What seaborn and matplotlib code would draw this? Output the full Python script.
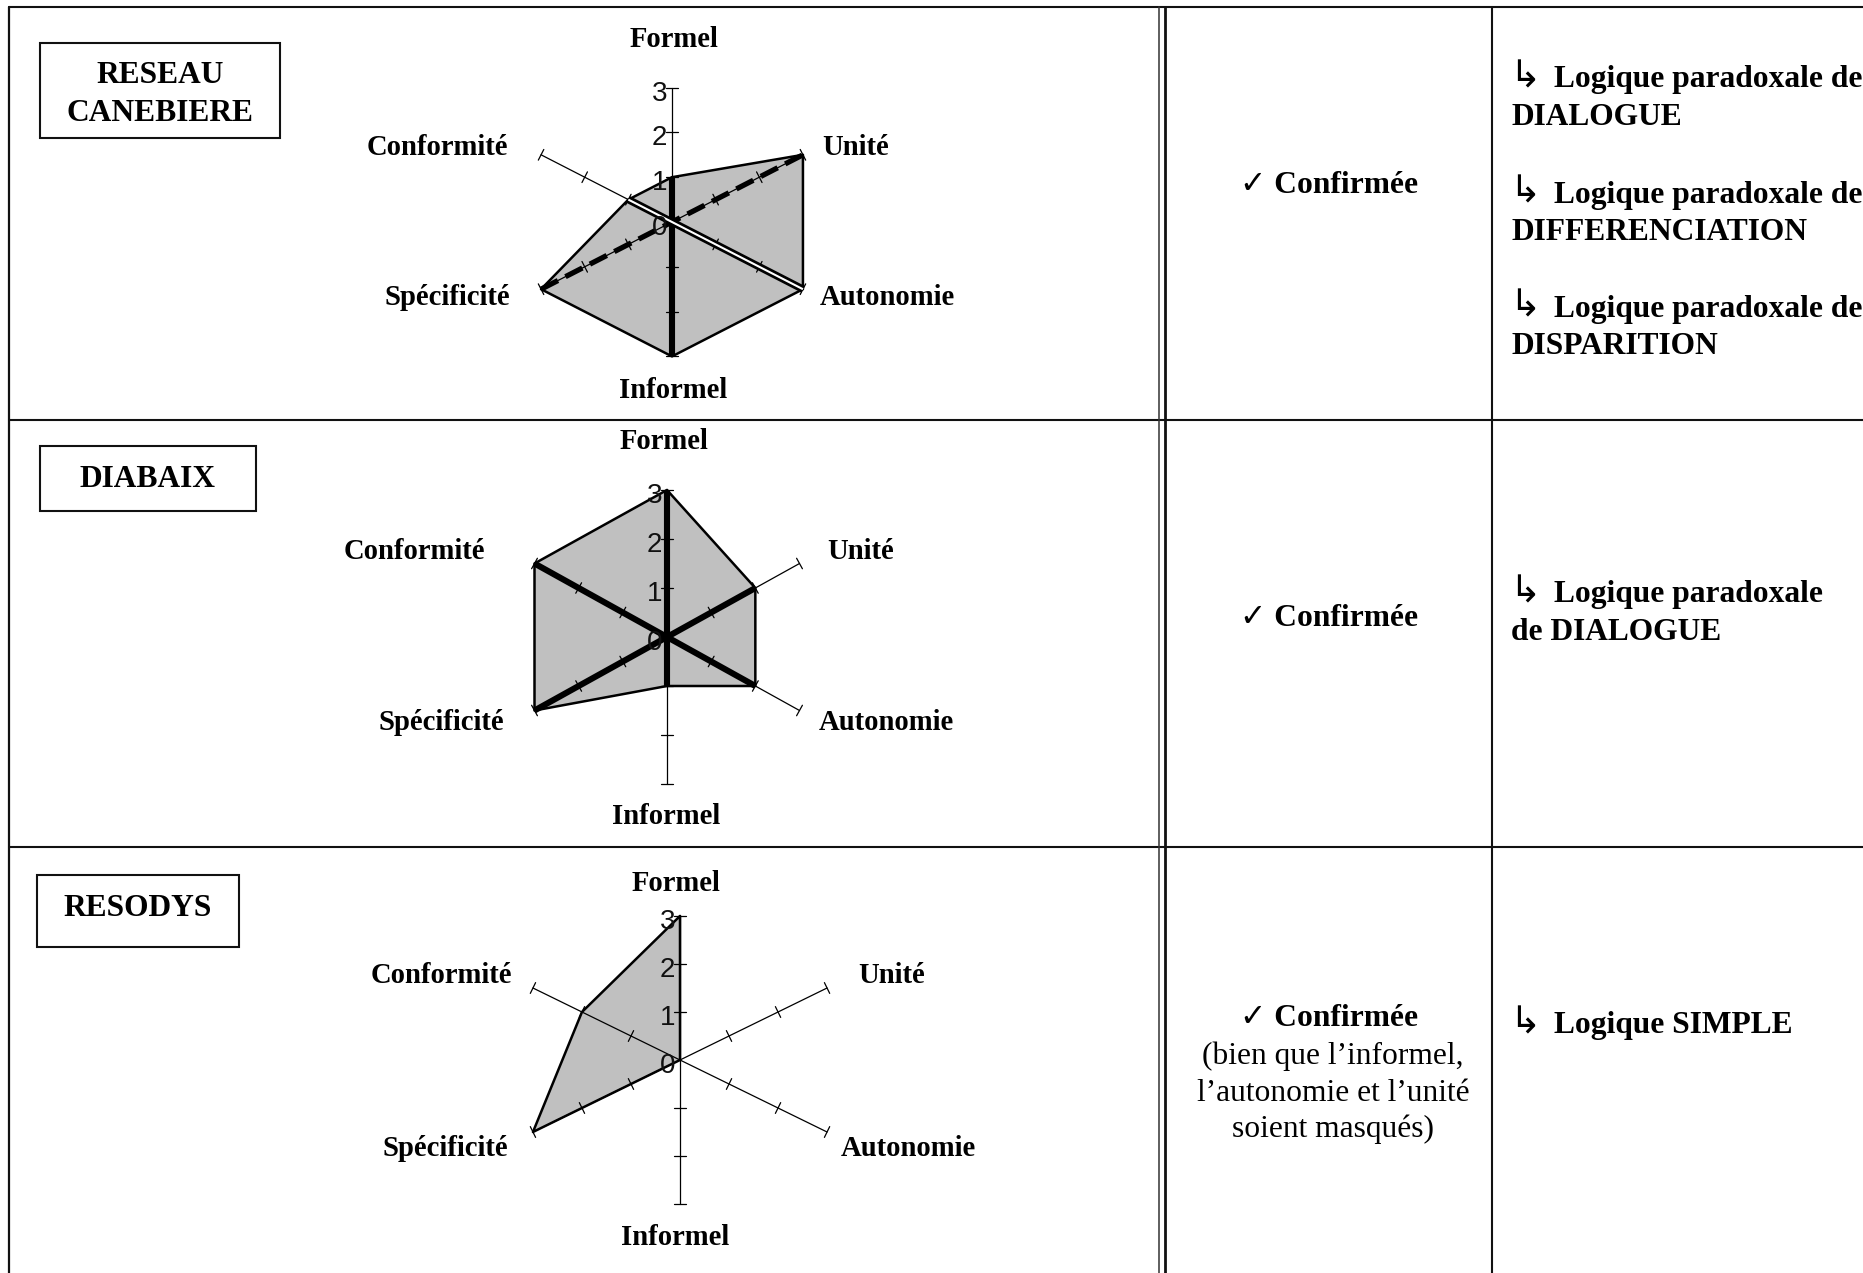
import numpy as np
import pandas as pd
import matplotlib
matplotlib.use("Agg")
import matplotlib.pyplot as plt
import matplotlib.transforms as mtransforms
from matplotlib import font_manager
from matplotlib.patches import Rectangle
import seaborn as sns

# ---------------- data ----------------
dimensions = ["Formel", "Unité", "Autonomie", "Informel", "Spécificité", "Conformité"]
scale_ticks = [0, 1, 2, 3]
scale_tick_labels = ["0", "1", "2", "3"]

case_names = [["RESEAU", "CANEBIERE"], ["DIABAIX"], ["RESODYS"]]
reseau_canebiere = [1, 3, 3, 3, 3, 1]
diabaix = [3, 2, 2, 1, 3, 3]
resodys = [3, 0, 0, 0, 3, 2]

canebiere_tensions = [("Formel", "Informel", "solid"),
                      ("Conformité", "Autonomie", "double"),
                      ("Spécificité", "Unité", "dashed")]
diabaix_tensions = [("Formel", "Informel", "solid"),
                    ("Conformité", "Autonomie", "solid"),
                    ("Spécificité", "Unité", "solid")]
resodys_tensions = []

verdicts = ["✓ Confirmée", "✓ Confirmée", "✓ Confirmée"]
resodys_note = ["(bien que l’informel,", "l’autonomie et l’unité", "soient masqués)"]

logics_canebiere = [["Logique paradoxale de", "DIALOGUE"],
                    ["Logique paradoxale de", "DIFFERENCIATION"],
                    ["Logique paradoxale de", "DISPARITION"]]
logics_diabaix = [["Logique paradoxale", "de DIALOGUE"]]
logics_resodys = [["Logique SIMPLE"]]

# ---------------- style / layout ----------------
W, H, DPI = 1863, 1273, 100
sns.set_theme(style="white")
plt.rcParams["font.family"] = ["Liberation Serif", "DejaVu Sans"]
SERIF = ["Liberation Serif", "DejaVu Sans"]
SANS = ["Liberation Sans", "DejaVu Sans"]
BODY = 22.7
LAB = 20.6
body_off = 0.331 * BODY * DPI / 72
lab_off = 0.331 * LAB * DPI / 72


def font_has(family, ch):
    try:
        from fontTools.ttLib import TTFont
        path = font_manager.findfont(font_manager.FontProperties(family=family),
                                     fallback_to_default=False)
        tt = TTFont(path, fontNumber=0, lazy=True)
        return ord(ch) in tt.getBestCmap()
    except Exception:
        return False


arrow_char, arrow_family, arrow_size = "↳", "DejaVu Sans", 27
for cand in ["⮱"]:
    for fam in ["DejaVu Sans", "Noto Sans"]:
        if font_has(fam, cand):
            arrow_char, arrow_family, arrow_size = cand, fam, 22
            break

fig = plt.figure(figsize=(W / DPI, H / DPI), dpi=DPI)
fig.patch.set_facecolor("white")
bg = fig.add_axes([0, 0, 1, 1])
bg.set_xlim(0, W)
bg.set_ylim(H, 0)
bg.axis("off")

ink = "#111111"
top, left_x = 7, 9
row_lines = [420, 847]
bg.plot([left_x, W], [top, top], color=ink, lw=1.5)
bg.plot([left_x, left_x], [top, H], color=ink, lw=1.6)
for y in row_lines:
    bg.plot([left_x, W], [y, y], color=ink, lw=1.5)
bg.plot([1158.5, 1158.5], [top, H], color="#333333", lw=1.1)
bg.plot([1164.5, 1164.5], [top, H], color=ink, lw=2.0)
bg.plot([1492, 1492], [top, H], color=ink, lw=1.5)

# case name boxes
boxes = [(40, 42.7, 240, 95.6), (40, 446, 216, 65), (36.7, 875, 202, 71.7)]
name_pos = [[(160, 72.5), (160, 110.5)], [(147.5, 477)], [(137.5, 905.5)]]
for (x0, y0, w, h), names, poss in zip(boxes, case_names, name_pos):
    bg.add_patch(Rectangle((x0, y0), w, h, fill=False, ec=ink, lw=1.5))
    for nm, (tx, ty) in zip(names, poss):
        bg.text(tx, ty + body_off, nm, ha="center", va="baseline",
                fontsize=BODY, fontweight="bold", family=SERIF, color="black")

# dimension labels (absolute positions, visual centres)
label_layout = [
    {"Formel": (673.6, 38, "center"), "Conformité": (508.5, 146, "right"),
     "Unité": (822, 146, "left"), "Spécificité": (509.7, 296, "right"),
     "Autonomie": (820, 296, "left"), "Informel": (673.6, 388.5, "center")},
    {"Formel": (664, 439.6, "center"), "Conformité": (484.7, 550, "right"),
     "Unité": (827, 550, "left"), "Spécificité": (503.7, 721, "right"),
     "Autonomie": (818.6, 721, "left"), "Informel": (666.5, 815, "center")},
    {"Formel": (676, 881.5, "center"), "Conformité": (512, 974, "right"),
     "Unité": (857.8, 974, "left"), "Spécificité": (508.5, 1146.5, "right"),
     "Autonomie": (841, 1146.5, "left"), "Informel": (674.8, 1235.6, "center")},
]
for lay in label_layout:
    for dim in dimensions:
        tx, ty, ha = lay[dim]
        bg.text(tx, ty + lab_off, dim, ha=ha, va="baseline", fontsize=LAB,
                fontweight="bold", family=SERIF, color="black")

# radar charts
charts = [
    dict(values=reseau_canebiere, tensions=canebiere_tensions, center=(672, 222), unit=(50.4, 44.8)),
    dict(values=diabaix, tensions=diabaix_tensions, center=(667, 637), unit=(51.0, 49.0)),
    dict(values=resodys, tensions=resodys_tensions, center=(680, 1060), unit=(56.6, 48.0)),
]
angles = np.deg2rad([90, 30, -30, -90, -150, 150])
ext = 4.0
vmax = max(scale_ticks)
for ch in charts:
    cx, cy = ch["center"]
    ux, uy = ch["unit"]
    ax = fig.add_axes([(cx - ext * ux) / W, 1 - (cy + ext * uy) / H,
                       2 * ext * ux / W, 2 * ext * uy / H])
    ax.patch.set_alpha(0)
    df = pd.DataFrame({"dimension": dimensions, "value": ch["values"], "angle": angles})
    df["x"] = df["value"] * np.cos(df["angle"])
    df["y"] = df["value"] * np.sin(df["angle"])
    closed = pd.concat([df, df.iloc[:1]], ignore_index=True)

    ax.fill(closed["x"], closed["y"], color="#c0c0c0", lw=0, zorder=1)

    for a in angles:
        ax.plot([0, vmax * np.cos(a)], [0, vmax * np.sin(a)], color="black", lw=0.9, zorder=2)
        d = np.array([ux * np.cos(a), uy * np.sin(a)])
        d /= np.linalg.norm(d)
        p = np.array([-d[1], d[0]]) * 6.0
        for v in scale_ticks[1:]:
            x0, y0 = v * np.cos(a), v * np.sin(a)
            ax.plot([x0 - p[0] / ux, x0 + p[0] / ux], [y0 - p[1] / uy, y0 + p[1] / uy],
                    color="black", lw=0.9, zorder=2)

    sns.lineplot(data=closed, x="x", y="y", sort=False, estimator=None,
                 color="black", lw=1.8, ax=ax, zorder=3)

    pts = dict(zip(df["dimension"], zip(df["x"], df["y"])))
    for a_name, b_name, style in ch["tensions"]:
        xs = [pts[a_name][0], pts[b_name][0]]
        ys = [pts[a_name][1], pts[b_name][1]]
        if style == "solid":
            ax.plot(xs, ys, color="black", lw=4.4, solid_capstyle="butt", zorder=4)
        elif style == "double":
            ax.plot(xs, ys, color="black", lw=5.4, solid_capstyle="butt", zorder=4)
            ax.plot(xs, ys, color="white", lw=1.5, solid_capstyle="butt", zorder=5)
        elif style == "dashed":
            ax.plot(xs, ys, color="black", lw=3.8, linestyle=(0, (3.6, 1.6)),
                    dash_capstyle="butt", zorder=4)

    off = mtransforms.offset_copy(ax.transData, fig=fig, x=-5, y=-13, units="dots")
    for v, lab in zip(scale_ticks, scale_tick_labels):
        ax.text(0, v, lab, transform=off, ha="right", va="baseline", fontsize=20,
                family=SANS, color="#111111", zorder=6)

    ax.set_xlim(-ext, ext)
    ax.set_ylim(-ext, ext)
    ax.axis("off")

# column 2: verification
col2_x = 1329
verdict_y = [183, 615.4, 1015.8]
for txt, y in zip(verdicts, verdict_y):
    bg.text(col2_x, y + body_off, txt, ha="center", va="baseline", fontsize=BODY,
            fontweight="bold", family=SERIF, color="black")
for txt, y in zip(resodys_note, [1053.8, 1090.7, 1126.3]):
    bg.text(1333, y + body_off, txt, ha="center", va="baseline", fontsize=BODY,
            family=SERIF, color="black")

# column 3: logics
arrow_x, text_x = 1511, 1554
logic_rows = [(logics_canebiere, [77, 192.5, 306.5]),
              (logics_diabaix, [591.7]),
              (logics_resodys, [1023])]
line_gap = 37.5
for items, ys in logic_rows:
    for lines, y in zip(items, ys):
        bg.text(arrow_x - 2, y + body_off, arrow_char, ha="left", va="baseline",
                fontsize=arrow_size, family=[arrow_family, "DejaVu Sans"], color="black")
        bg.text(text_x, y + body_off, lines[0], ha="left", va="baseline",
                fontsize=BODY, fontweight="bold", family=SERIF, color="black")
        for k, extra in enumerate(lines[1:], start=1):
            bg.text(arrow_x, y + k * line_gap + body_off, extra, ha="left", va="baseline",
                    fontsize=BODY, fontweight="bold", family=SERIF, color="black")

fig.savefig("out.png", dpi=DPI)
